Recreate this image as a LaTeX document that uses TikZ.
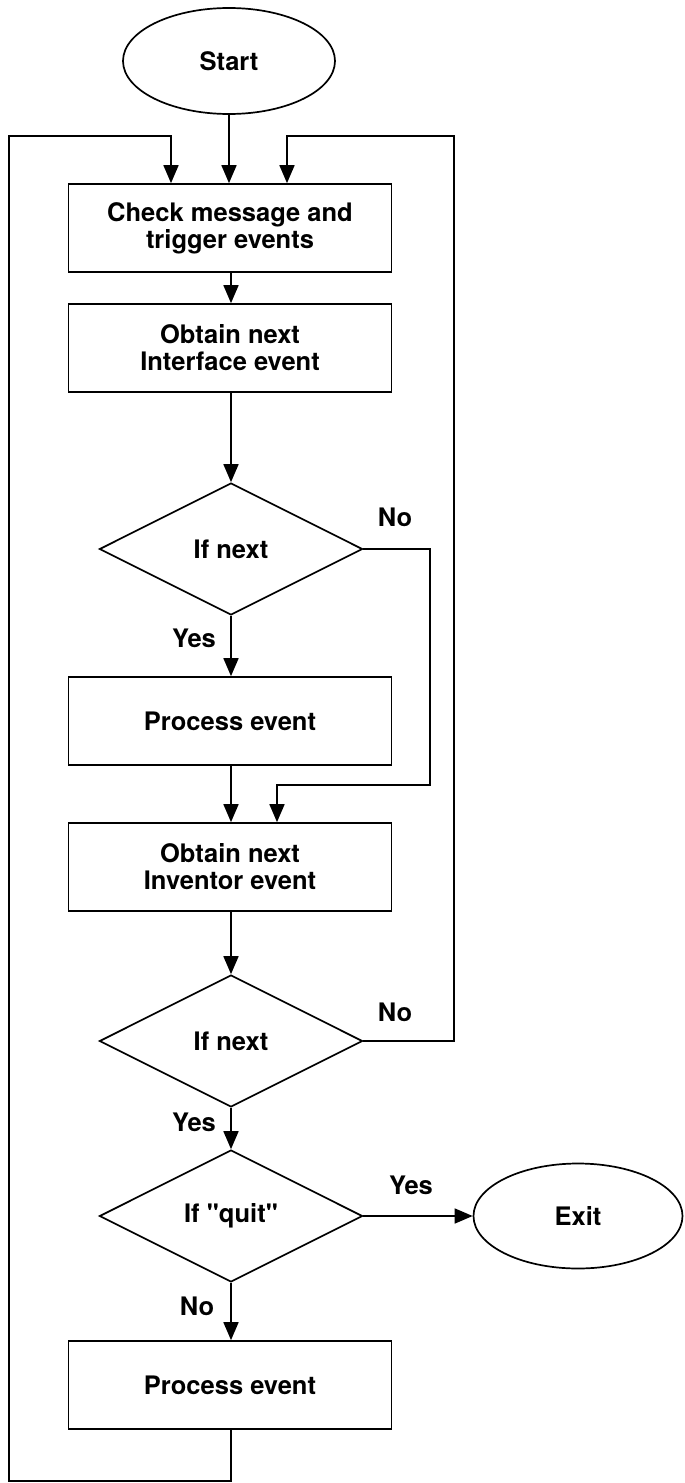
\documentclass[tikz,border=0pt]{standalone}
\usepackage{fontspec}
\setmainfont{TeX Gyre Heros}
\usetikzlibrary{shapes.geometric,arrows.meta}
\begin{document}
\begin{tikzpicture}[x=1pt,y=-1pt,
  line width=1.7pt,
  every node/.style={font=\fontsize{25.5}{27}\selectfont\bfseries},
  procbox/.style={draw,rectangle,minimum width=323pt,minimum height=88pt,inner sep=0pt,align=center},
  term/.style={draw,ellipse,minimum width=212pt,minimum height=106pt,inner sep=0pt},
  decision/.style={draw,diamond,aspect=2,minimum width=263pt,minimum height=132pt,inner sep=0pt},
  lbl/.style={inner sep=0pt},
  arr/.style={-{Triangle[width=15pt,length=18pt]}}]
\useasboundingbox (0,0) rectangle (685,1483);
\node[term] (start) at (229,61) {Start};
\node[procbox] (check) at (230,228) {Check message and\\trigger events};
\node[procbox] (iface) at (230,348) {Obtain next\\Interface event};
\node[decision] (d1) at (231,549) {If next};
\node[procbox] (proc1) at (230,721) {Process event};
\node[procbox] (inv) at (230,867) {Obtain next\\Inventor event};
\node[decision] (d2) at (231,1041) {If next};
\node[decision] (d3) at (231,1216) {If \textquotedbl quit\textquotedbl};
\node[term, minimum width=209pt, minimum height=105pt] (exit) at (578,1216) {Exit};
\node[procbox] (proc2) at (230,1385) {Process event};
% labels
\node[lbl] (no1) at (395,517) {No};
\node[lbl] (yes1) at (194,638) {Yes};
\node[lbl] (no2) at (395,1012) {No};
\node[lbl] (yes2) at (194,1122) {Yes};
\node[lbl] (yes3) at (411,1185) {Yes};
\node[lbl] (no3) at (197,1306) {No};
% bend coordinates
\coordinate (a1) at (430,549);
\coordinate (a2) at (430,785);
\coordinate (a3) at (277,785);
\coordinate (b1) at (454,1041);
\coordinate (b2) at (454,136);
\coordinate (b3) at (287,136);
\coordinate (c1) at (231,1481);
\coordinate (c2) at (9,1481);
\coordinate (c3) at (9,136);
\coordinate (c4) at (171,136);
% connectors
\draw[arr] (start.south) -- (start.south |- check.north);
\draw[arr] (check.south -| d1.north) -- (iface.north -| d1.north);
\draw[arr] (iface.south -| d1.north) -- (d1.north);
\draw[arr] (d1.south) -- (d1.south |- proc1.north);
\draw[arr] (proc1.south -| d1.north) -- (inv.north -| d1.north);
\draw[arr] (d1.east) -- (a1) -- (a2) -- (a3) -- (a3 |- inv.north);
\draw[arr] (inv.south -| d2.north) -- (d2.north);
\draw[arr] (d2.east) -- (b1) -- (b2) -- (b3) -- (b3 |- check.north);
\draw[arr] (d2.south) -- (d3.north);
\draw[arr] (d3.east) -- (exit.west);
\draw[arr] (d3.south) -- (d3.south |- proc2.north);
\draw[arr] (proc2.south -| c1) -- (c1) -- (c2) -- (c3) -- (c4) -- (c4 |- check.north);
\end{tikzpicture}
\end{document}
